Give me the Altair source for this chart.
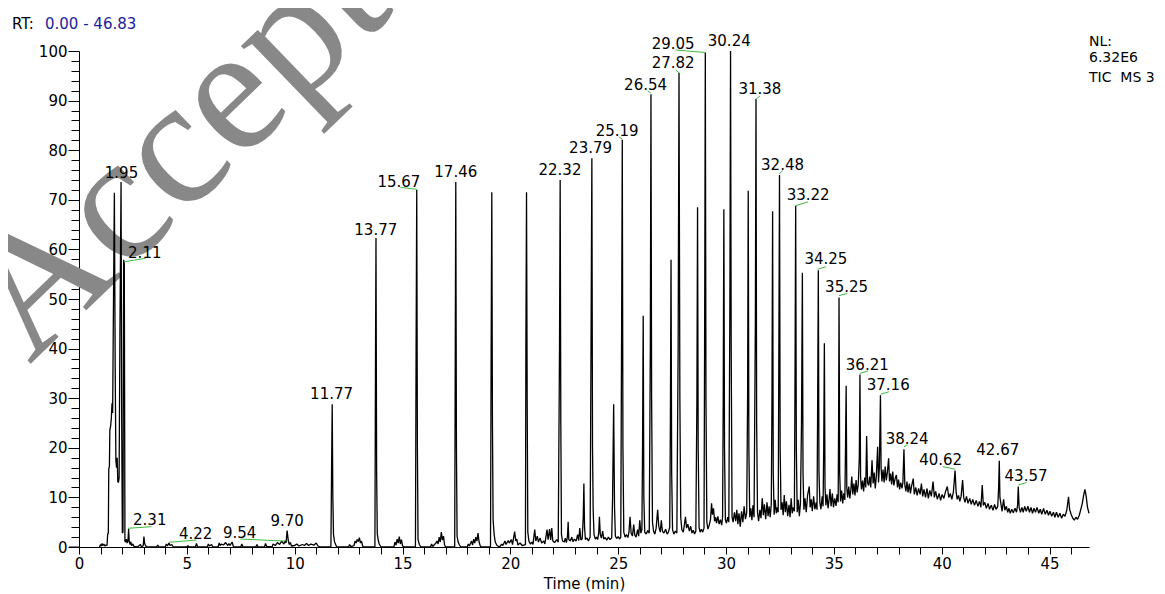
import altair as alt
import pandas as pd

# ---------------- data ----------------
# chromatogram trace, split in segments of (time [min], relative abundance [%])
seg_a = [(0.95,0),(1.0,0.5),(1.03,0.2),(1.07,0.7),(1.1,0.3),(1.15,0.6),(1.2,0.2),(1.25,0.4),(1.3,0.3),
         (1.33,2.6),(1.36,2.8),(1.38,15.8),(1.41,16.2),(1.43,23.5),(1.47,24.5),(1.5,26.0),(1.53,29.0),
         (1.56,27.0),(1.6,50.0),(1.64,71.4),(1.68,35.0),(1.71,17.5),(1.74,16.0),(1.77,18.0),(1.8,13.2),
         (1.83,13.0),(1.86,14.0),(1.9,45.0),(1.95,73.6),(1.98,25.0),(2.01,2.8),(2.04,3.0),(2.07,57.9),
         (2.1,57.2),(2.13,1.2),(2.16,1.0),(2.2,1.6),(2.23,0.8),(2.27,1.2),(2.3,3.6),(2.33,1.0),(2.37,0.5),
         (2.4,1.1),(2.44,0.3),(2.5,0.6),(2.55,0.1),(2.7,0.0),(2.85,0.5),(2.9,0.0),(2.98,0.3),(3.01,2.1),
         (3.04,0.8),(3.08,0.3),(3.15,0.0)]
seg_b = [(3.6,0),(3.65,0.4),(3.7,0),(4.0,0),(4.05,0.6),(4.1,0.2),(4.17,0.8),(4.22,0.3),(4.3,0.5),(4.38,0),
         (5.0,0),(5.05,0.3),(5.1,0),(5.4,0),(5.45,0.7),(5.5,0),(5.95,0),(6.0,0.6),(6.05,0.2),(6.15,0.5),
         (6.2,0),(6.45,0),(6.5,0.8),(6.55,0.3),(6.6,0.6),(6.7,0.4),(6.8,0.9),(6.9,0.3),(6.95,0.7),(7.0,0.3),
         (7.1,1.0),(7.15,0.2),(7.2,0),(7.5,0),(7.55,0.6),(7.6,0),(8.2,0),(8.25,0.5),(8.3,0),(8.6,0),
         (8.65,0.7),(8.7,0.1),(8.95,0),(9.0,0.6),(9.1,0.3),(9.2,0.9),(9.3,0.5),(9.4,1.2),(9.5,0.6),
         (9.55,1.2),(9.6,0.8),(9.65,3.3),(9.7,1.4),(9.75,0.5),(9.8,0.9),(9.85,0.2),(10.0,0.3),(10.1,0.6),
         (10.2,0.2),(10.35,0.5),(10.45,0.3),(10.55,0.7),(10.65,0.3),(10.75,0.6),(10.9,0.4),(11.0,0.8),
         (11.08,0.2),(11.2,0)]
seg_c = [(11.68,0),(11.71,15),(11.74,28.8),(11.77,10),(11.8,2.5),(11.85,1.0),(11.9,0.5),(11.95,0),
         (12.5,0),(12.55,0.5),(12.6,0.1),(12.75,0.3),(12.8,1.2),(12.85,0.8),(12.9,1.5),(12.95,1.1),
         (13.0,1.9),(13.05,0.8),(13.1,1.2),(13.15,0.2),(13.2,0),(13.72,0),(13.75,40),(13.77,62.3),
         (13.8,15),(13.83,2.7),(13.87,1.5),(13.92,0.6),(14.0,0),(14.6,0),(14.65,1.0),(14.7,0.4),
         (14.75,1.6),(14.8,0.8),(14.85,2.1),(14.9,0.6),(14.95,1.5),(15.0,0.3),(15.05,0),(15.6,0),
         (15.63,40),(15.66,72.0),(15.69,20),(15.72,1.5),(15.78,0.5),(15.85,0),(16.3,0),(16.35,0.6),
         (16.4,0.1),(16.55,0.8),(16.6,1.2),(16.65,0.6),(16.7,2.0),(16.75,1.0),(16.8,3.0),(16.85,1.4),
         (16.9,2.2),(16.95,0.4),(17.0,0),(17.42,0),(17.45,45),(17.47,73.6),(17.5,20),(17.53,2.2),
         (17.58,1.0),(17.63,0.5),(17.7,0),(18.0,0),(18.05,0.6),(18.1,0.2),(18.2,1.2),(18.25,0.4),
         (18.3,1.6),(18.35,0.8),(18.4,2.0),(18.45,1.2),(18.5,2.8),(18.55,1.0),(18.6,0.3),(18.65,0),
         (19.08,0),(19.11,40),(19.14,71.5),(19.17,25),(19.2,5.5),(19.25,2.5),(19.3,1.0),(19.38,0.3),
         (19.5,0),(19.6,0.6),(19.65,0.3),(19.75,1.2),(19.8,0.5),(19.9,1.3),(19.95,0.8),(20.05,1.5),
         (20.1,0.5),(20.2,3.1),(20.25,1.2),(20.3,1.6),(20.35,0.4),(20.45,0.8),(20.55,0.3),(20.7,0.5),
         (20.72,40),(20.75,71.5),(20.78,30),(20.81,3.0),(20.86,1.2),(20.93,0.6),(21.0,1.0),(21.05,0.5),
         (21.13,3.5),(21.18,1.2),(21.25,2.2),(21.3,1.0),(21.38,1.8),(21.45,0.8),(21.55,1.2),(21.6,0.6),
         (21.7,3.5),(21.75,1.5),(21.82,3.6),(21.87,1.4),(21.92,3.8),(21.97,1.2),(22.05,0.9),(22.15,1.5),
         (22.22,1.0),(22.28,40),(22.31,74.0),(22.34,25),(22.37,2.5),(22.42,1.2),(22.5,1.0)]
seg_d = [(22.55,1.8),(22.6,0.9),(22.65,2.2),(22.68,5.1),(22.71,1.5),(22.78,1.2),(22.85,2.0),(22.9,1.1),
         (22.97,1.6),(23.05,1.2),(23.12,2.5),(23.17,1.3),(23.22,3.8),(23.27,1.4),(23.33,1.6),(23.38,6.0),
         (23.41,12.8),(23.44,4.0),(23.48,1.5),(23.55,1.8),(23.62,1.2),(23.7,2.0),(23.74,40),(23.78,78.4),
         (23.81,20),(23.84,7.5),(23.88,2.5),(23.94,1.6),(24.0,2.0),(24.05,1.5),(24.1,3.0),(24.13,6.1),
         (24.17,2.5),(24.22,1.8),(24.28,3.2),(24.33,1.6),(24.4,1.9),(24.47,1.4),(24.55,2.0),(24.62,1.5),
         (24.7,1.8),(24.74,10),(24.79,28.8),(24.83,8.0),(24.87,2.2),(24.93,1.7),(25.0,2.1),(25.07,1.6),
         (25.12,2.0),(25.16,45),(25.19,82.1),(25.22,20),(25.26,3.0),(25.32,2.0),(25.38,2.5),(25.45,1.9),
         (25.5,3.0),(25.55,6.1),(25.6,2.8),(25.66,2.2),(25.72,4.5),(25.77,2.4),(25.83,2.0),(25.9,3.5),
         (25.95,2.2),(26.0,5.4),(26.05,2.8),(26.1,3.5),(26.13,20),(26.16,46.6),(26.19,10),(26.23,3.0),
         (26.3,2.6),(26.37,3.3),(26.44,2.8),(26.49,40),(26.52,91.3),(26.55,30),(26.59,5.0),(26.64,3.2),
         (26.7,2.6),(26.76,3.8),(26.83,7.5),(26.88,4.2),(26.95,3.0),(27.0,5.4),(27.05,3.2),(27.12,2.8),
         (27.2,3.6),(27.27,2.6),(27.33,3.0),(27.39,4.0),(27.42,25),(27.45,57.9),(27.48,15),(27.52,3.5),
         (27.58,2.6),(27.65,3.2),(27.72,2.8),(27.78,40),(27.82,95.6),(27.86,30),(27.9,6.0),(27.95,3.5),
         (28.02,3.0),(28.08,4.8),(28.12,6.1),(28.17,3.8),(28.23,4.6),(28.3,3.2),(28.36,4.2),(28.42,2.8),
         (28.48,3.4),(28.54,2.6),(28.6,3.2),(28.65,30),(28.68,68.5),(28.71,20),(28.75,4.0),(28.8,3.0),
         (28.86,3.6),(28.92,3.0),(28.98,3.8),(29.01,45),(29.04,99.7),(29.07,30),(29.11,5.0),(29.16,3.6),
         (29.22,4.4),(29.28,5.5),(29.33,8.8),(29.37,6.5),(29.42,7.8),(29.47,5.2),(29.52,6.0),(29.56,4.8),
         (29.62,6.2),(29.68,4.6),(29.74,5.5),(29.8,4.4),(29.84,6.0),(29.87,30),(29.9,68.1),(29.93,20),
         (29.97,5.5),(30.02,4.8),(30.08,6.0),(30.13,5.0),(30.18,50),(30.21,100.0),(30.24,40),(30.28,6.0),
         (30.33,5.0),(30.39,7.0),(30.45,5.2),(30.5,7.5),(30.55,4.6),(30.6,6.8),(30.66,4.1),(30.72,7.2),
         (30.78,5.0),(30.84,8.2),(30.9,5.6),(30.96,7.0),(31.0,30),(31.03,71.8),(31.06,20),(31.1,6.0),
         (31.15,7.8),(31.2,5.4),(31.25,8.4),(31.3,6.0),(31.36,45),(31.39,90.3),(31.42,25),(31.46,7.0),
         (31.51,5.2),(31.57,7.5),(31.62,5.8),(31.68,9.8),(31.73,6.4),(31.78,8.6),(31.84,5.6),(31.9,9.0),
         (31.95,6.2),(32.0,8.2),(32.05,6.0),(32.1,8.8),(32.13,30),(32.16,67.7),(32.19,15),(32.23,6.5),
         (32.28,9.5),(32.33,6.8),(32.38,8.0),(32.42,7.0),(32.45,40),(32.48,75.0),(32.51,20),(32.55,7.5)]
seg_e = [(32.6,9.0),(32.65,6.4),(32.7,10.5),(32.75,7.0),(32.8,9.2),(32.86,6.2),(32.92,8.5),(32.97,6.0),
         (33.02,9.8),(33.07,6.8),(33.12,8.0),(33.17,7.2),(33.2,35),(33.23,68.8),(33.26,20),(33.3,7.0),
         (33.35,9.5),(33.4,6.2),(33.45,8.8),(33.5,25),(33.54,55.3),(33.57,15),(33.61,7.5),(33.66,9.8),
         (33.72,7.0),(33.78,10.4),(33.86,12.2),(33.9,8.0),(33.95,9.6),(34.0,7.2),(34.06,10.2),(34.12,7.6),
         (34.18,9.0),(34.22,7.5),(34.25,30),(34.28,55.8),(34.31,15),(34.35,9.0),(34.4,7.6),(34.46,10.2),
         (34.5,8.2),(34.53,20),(34.56,41.1),(34.59,12),(34.63,8.4),(34.68,10.6),(34.73,7.8),(34.78,9.6),
         (34.82,11.7),(34.87,8.2),(34.93,10.8),(34.98,8.0),(35.04,9.8),(35.1,8.3),(35.15,10.6),(35.2,9.0),
         (35.22,25),(35.24,50.3),(35.27,15),(35.31,9.2),(35.36,11.4),(35.41,8.8),(35.46,10.8),(35.51,9.5),
         (35.54,20),(35.57,32.5),(35.6,12),(35.64,10.0),(35.69,12.2),(35.74,9.8),(35.79,11.6),(35.83,14.2),
         (35.88,10.6),(35.93,12.8),(35.98,10.4),(36.03,13.5),(36.08,11.0),(36.13,12.6),(36.18,18),
         (36.21,34.8),(36.24,14),(36.28,11.6),(36.33,13.4),(36.38,11.2),(36.43,14.0),(36.48,12.0),
         (36.52,22.4),(36.56,13),(36.61,12.4),(36.66,14.2),(36.71,12.0),(36.77,17.5),(36.82,12.8),
         (36.87,15.0),(36.92,11.8),(36.97,14.4),(37.03,20.2),(37.07,13.0),(37.11,16),(37.16,30.6),
         (37.19,16),(37.23,13.2),(37.28,15.6),(37.33,13.0),(37.38,16.2),(37.43,13.4),(37.48,15.0),
         (37.54,17.9),(37.58,13.2),(37.63,14.8),(37.68,12.6),(37.73,15.2),(37.78,12.4),(37.84,13.8),
         (37.9,14.5),(37.95,12.0),(38.0,13.6),(38.05,11.6),(38.1,13.0),(38.16,11.8),(38.2,13),(38.25,19.7),
         (38.29,12.5),(38.34,11.2),(38.39,13.2),(38.44,11.0),(38.5,12.8),(38.55,10.8),(38.6,12.2),
         (38.68,13.8),(38.73,10.6),(38.8,12.0),(38.86,10.4),(38.93,11.8),(39.0,10.6),(39.06,12.8),
         (39.12,10.2),(39.18,11.6),(39.25,10.0),(39.32,11.8),(39.38,9.8),(39.45,11.4),(39.52,10.2),
         (39.6,13.2),(39.66,10.0),(39.72,11.2),(39.8,9.6),(39.88,10.8),(39.95,9.4),(40.02,10.6),(40.1,9.8),
         (40.18,11.2),(40.26,12.2),(40.33,10.0),(40.4,10.8),(40.47,9.6),(40.54,11.0),(40.62,15.4),
         (40.67,11.0),(40.72,9.6),(40.78,10.4),(40.84,9.2),(40.9,10.2),(40.97,13.5),(41.02,10.0),
         (41.08,9.0),(41.15,10.2),(41.22,8.8),(41.3,9.8),(41.37,8.6),(41.44,9.6),(41.52,8.4),(41.6,9.4),
         (41.68,8.2),(41.75,9.2),(41.82,8.0),(41.88,12.5),(41.93,8.4),(42.0,9.0),(42.07,7.8),(42.15,8.8),
         (42.22,7.6),(42.3,8.4),(42.38,7.4),(42.45,8.6),(42.52,7.6),(42.6,8.2),(42.64,12),(42.67,17.4),
         (42.7,10),(42.75,8.6),(42.8,7.2),(42.87,9.6),(42.93,7.4),(43.0,8.2),(43.06,7.0),(43.12,7.8),
         (43.18,6.8),(43.25,7.6),(43.32,6.9),(43.4,7.8),(43.47,7.0),(43.52,8.5),(43.55,12.2),(43.59,8.0),
         (43.65,7.0),(43.72,8.0),(43.78,7.0),(43.85,8.2),(43.92,7.2),(44.0,8.2),(44.07,7.0),(44.14,8.0),
         (44.21,6.8),(44.28,7.8),(44.35,7.0),(44.42,8.0),(44.5,6.8),(44.57,7.6),(44.64,6.6),(44.72,7.8),
         (44.8,6.6),(44.88,7.4),(44.95,6.4),(45.02,7.2),(45.1,6.2),(45.18,7.0),(45.25,6.0),(45.32,7.0),
         (45.4,6.0),(45.48,6.8),(45.56,5.8),(45.64,6.6),(45.72,6.2),(45.8,7.4),(45.88,10.1),(45.93,7.6),
         (46.0,6.6),(46.08,5.8),(46.15,5.4),(46.22,6.0),(46.3,5.6),(46.38,6.4),(46.45,7.6),(46.52,8.8),
         (46.58,10.4),(46.64,11.6),(46.7,10.2),(46.76,8.0),(46.83,6.8)]

# peak annotations
label_text = ["1.95", "2.11", "2.31", "4.22", "9.54", "9.70", "11.77", "13.77", "15.67", "17.46",
              "22.32", "23.79", "25.19", "26.54", "27.82", "29.05", "30.24", "31.38", "32.48", "33.22",
              "34.25", "35.25", "36.21", "37.16", "38.24", "40.62", "42.67", "43.57"]
label_t = [1.97, 3.05, 3.28, 5.41, 7.45, 9.65, 11.71, 13.76, 14.83, 17.47,
           22.30, 23.72, 24.95, 26.27, 27.55, 27.55, 30.15, 31.57, 32.62, 33.81,
           34.63, 35.59, 36.55, 37.52, 38.40, 39.95, 42.60, 43.91]
label_v = [75.5, 59.2, 5.4, 2.55, 2.9, 5.3, 30.8, 64.0, 73.6, 75.7,
           76.0, 80.5, 83.9, 93.1, 97.6, 101.5, 102.1, 92.3, 77.0, 71.0,
           58.0, 52.5, 36.7, 32.7, 21.7, 17.5, 19.6, 14.3]

# green leader lines from label to peak apex: (t1, v1, t2, v2)
leaders = [(2.10, 57.5, 3.09, 58.2), (2.27, 3.77, 3.36, 4.1), (4.17, 0.94, 5.45, 1.41),
           (7.49, 1.6, 9.54, 1.2), (14.90, 72.5, 15.68, 72.1), (25.03, 82.7, 25.19, 82.2),
           (26.36, 92.0, 26.52, 91.5), (27.66, 96.2, 27.82, 95.6), (27.66, 100.2, 29.04, 99.7),
           (31.39, 90.3, 31.57, 90.9), (32.47, 75.2, 32.62, 75.9), (33.23, 68.8, 33.81, 69.6),
           (34.25, 56.0, 34.63, 56.5), (35.24, 50.7, 35.62, 51.1), (36.21, 35.0, 36.59, 35.5),
           (37.17, 30.8, 37.55, 31.3), (38.25, 20.2, 38.42, 20.6), (40.05, 16.2, 40.62, 15.7),
           (43.55, 12.5, 43.94, 13.0)]

x_ticks = list(range(0, 47))
y_ticks = list(range(0, 101, 2))

# ---------------- tables ----------------
trace = pd.DataFrame(seg_a + seg_b + seg_c + seg_d + seg_e, columns=["t", "v"])
trace["order"] = range(len(trace))
labels = pd.DataFrame({"text": label_text, "t": label_t, "v": label_v})
lead = pd.DataFrame(leaders, columns=["t1", "v1", "t2", "v2"])

FONT = "DejaVu Sans"
W, H = 1010, 496

xscale = alt.Scale(domain=[0, 46.83], nice=False, zero=False)
yscale = alt.Scale(domain=[0, 100], nice=False, zero=True)


def x_axis():
    return alt.Axis(values=x_ticks, labelExpr="datum.value % 5 === 0 ? datum.label : ''",
                    tickSize=7, tickColor="black", domainColor="black", labelColor="black",
                    labelFont=FONT, labelFontSize=15, labelPadding=2, labelFlush=False,
                    labelOverlap=False, grid=False, title="Time (min)", titleFont=FONT,
                    titleFontSize=15, titleFontWeight="normal", titleColor="black",
                    titleY=41, titleBaseline="alphabetic")


def y_axis():
    return alt.Axis(values=y_ticks, labelExpr="datum.value % 10 === 0 ? datum.label : ''",
                    tickSize={"condition": {"test": "datum.value % 10 === 0", "value": 11},
                              "value": 8},
                    tickColor="black", domainColor="black", labelColor="black",
                    labelFont=FONT, labelFontSize=15, labelPadding=1, labelOverlap=False,
                    labelFlush=False, grid=False, title=None)


one = alt.Data(values=[{"a": 1}])

# watermark drawn first so the trace and labels sit on top of it
watermark = alt.Chart(one).mark_text(text="Accepted", font="Liberation Serif", fontSize=180,
                                     angle=316, color="#888888", align="center",
                                     baseline="alphabetic").encode(
    x=alt.value(195), y=alt.value(78))

line = alt.Chart(trace).mark_line(color="black", strokeWidth=1.3, strokeJoin="bevel").encode(
    x=alt.X("t:Q", scale=xscale, axis=x_axis()),
    y=alt.Y("v:Q", scale=yscale, axis=y_axis()),
    order="order:Q",
)

lead_rules = alt.Chart(lead).mark_rule(color="#3dbb3d", strokeWidth=1).encode(
    x=alt.X("t1:Q", scale=xscale, axis=x_axis()), y=alt.Y("v1:Q", scale=yscale, axis=y_axis()),
    x2="t2:Q", y2="v2:Q",
)

peak_labels = alt.Chart(labels).mark_text(font=FONT, fontSize=15, color="black",
                                          baseline="middle", align="center").encode(
    x=alt.X("t:Q", scale=xscale, axis=x_axis()), y=alt.Y("v:Q", scale=yscale, axis=y_axis()),
    text="text:N",
)


def note(txt, x, y, color="black", align="left", size=15):
    return alt.Chart(one).mark_text(text=txt, font=FONT, fontSize=size, color=color,
                                    align=align, baseline="middle").encode(
        x=alt.value(x), y=alt.value(y))


axis_ext = alt.Chart(one).mark_rule(color="black", strokeWidth=1).encode(
    x=alt.value(-10), x2=alt.value(0), y=alt.value(H))

chart = alt.layer(
    watermark, line, lead_rules, peak_labels, axis_ext,
    note("RT:", -67, -27),
    note("0.00 - 46.83", -34, -27, color="#1c1c9c"),
    note("NL:", 1010, -9.3, size=14),
    note("6.32E6", 1010, 7.3, size=14),
    note("TIC\u00a0 MS 3", 1010, 27.3, size=14),
).properties(
    width=W, height=H,
    autosize=alt.AutoSizeParams(type="none"),
    padding={"left": 71, "top": 43, "right": 68, "bottom": 46},
).configure_view(stroke="transparent")

chart.save("out.html", embed_options={"renderer": "svg", "actions": False})
